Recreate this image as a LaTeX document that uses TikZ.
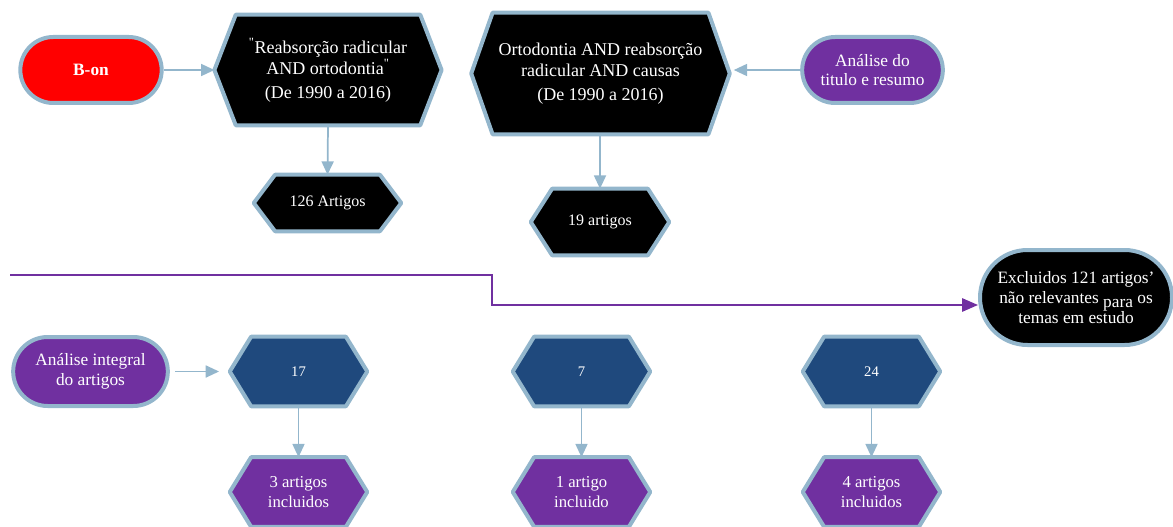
\documentclass[tikz,border=0pt]{standalone}
\usepackage{fontspec}
\setmainfont{Liberation Serif}
\newfontfamily\retofont[Ligatures=TeXOff]{Liberation Serif}
\usetikzlibrary{shapes.misc,arrows.meta,backgrounds}
\definecolor{edgeblue}{HTML}{93B6CC}
\definecolor{darkblue}{HTML}{1F497D}
\definecolor{roxo}{HTML}{7030A0}

\tikzset{
  hexa/.style={inner sep=0pt, align=center, text=white, font=\fontsize{12}{15}\selectfont},
  oval/.style={rounded rectangle, draw=edgeblue, line width=3pt, inner sep=2pt, align=center,
    text=white, font=\fontsize{13}{15}\selectfont},
  seta/.style={draw=edgeblue, line width=1.3pt, -{Triangle[length=10pt,width=9pt]}},
}
% hexagon drawn behind a named node
\newcommand{\hexback}[2]{%
  \begin{scope}[on background layer]
    \draw[draw=edgeblue, line width=3pt, line join=round, fill=#2]
      (#1.west) -- ([xshift=16pt]#1.north west) -- ([xshift=-16pt]#1.north east)
      -- (#1.east) -- ([xshift=-16pt]#1.south east) -- ([xshift=16pt]#1.south west) -- cycle;
  \end{scope}}

\begin{document}
\begin{tikzpicture}[x=0.75pt,y=-0.75pt]
\useasboundingbox (0,0) rectangle (1173,527);

% top row
\node[oval, fill=red, font=\bfseries\fontsize{13}{15}\selectfont, minimum width=110pt, minimum height=49.5pt] (bon) at (91,70) {B-on};
\node[hexa, font=\fontsize{13.5}{16}\selectfont, minimum width=170pt, minimum height=82.5pt] (reab) at (328,70)
  {\textsuperscript{\retofont"}Reabsorção radicular\\AND ortodontia\textsuperscript{\retofont"}\\[2pt](De 1990 a 2016)};
\node[hexa, font=\fontsize{13.5}{16}\selectfont, minimum width=193.5pt, minimum height=90.75pt] (orto) at (600.5,73.5)
  {Ortodontia AND reabsorção\\radicular AND causas\\[2pt](De 1990 a 2016)};
\node[oval, fill=roxo, font=\fontsize{13}{14}\selectfont, minimum width=109.5pt, minimum height=49.5pt] (titulo) at (872.5,70)
  {Análise do\\titulo e resumo};
\node[hexa, minimum width=110.25pt, minimum height=42pt] (art126) at (327.5,203) {126 Artigos};
\node[hexa, minimum width=103.5pt, minimum height=49.5pt] (art19) at (600,222) {19 artigos};

% exclusion
\coordinate (inicio) at (10,275);
\coordinate (dobra) at (492,305);
\node[oval, fill=black, minimum width=148pt, minimum height=71.25pt] (excl) at (1076,297.5)
  {Excluidos 121 artigos’\\não relevantes \raisebox{-3pt}{para} os\\temas em estudo};

% bottom rows
\node[oval, fill=roxo, minimum width=120pt, minimum height=51.75pt] (integ) at (90.5,371.5)
  {Análise integral\\do artigos};
\node[hexa, font=\fontsize{11}{14}\selectfont, minimum width=102.75pt, minimum height=51.75pt] (n17) at (298.5,371.5) {17};
\node[hexa, font=\fontsize{11}{14}\selectfont, minimum width=102.75pt, minimum height=51.75pt] (n7) at (581.5,371.5) {7};
\node[hexa, font=\fontsize{11}{14}\selectfont, minimum width=102.75pt, minimum height=51.75pt] (n24) at (871.5,371.5) {24};
\node[hexa, font=\fontsize{12.5}{15}\selectfont, minimum width=102.75pt, minimum height=51.75pt] (inc3) at (298.5,492) {3 artigos\\incluidos};
\node[hexa, font=\fontsize{12.5}{15}\selectfont, minimum width=102.75pt, minimum height=51.75pt] (inc1) at (581.5,492) {1 artigo\\incluido};
\node[hexa, font=\fontsize{12.5}{15}\selectfont, minimum width=102.75pt, minimum height=51.75pt] (inc4) at (871.5,492) {4 artigos\\incluidos};

\foreach \n/\c in {reab/black, orto/black, art126/black, art19/black,
                   n17/darkblue, n7/darkblue, n24/darkblue,
                   inc3/roxo, inc1/roxo, inc4/roxo}
  \hexback{\n}{\c};

% connectors
\draw[seta] (bon.east) -- (reab.west);
\draw[seta, shorten >=3pt] (titulo.west) -- (titulo.west -| orto.east);
\draw[seta] (reab.south) -- (art126.north);
\draw[seta] (orto.south -| art19.north) -- (art19.north);
\draw[draw=roxo, line width=1.5pt, -{Triangle[length=12pt,width=10pt]}]
  (inicio) -| (dobra) -- (dobra -| excl.west);
\draw[seta, shorten <=4pt, shorten >=8pt] (integ.east) -- (n17.west);
\draw[seta] (n17.south) -- (inc3.north);
\draw[seta] (n7.south) -- (inc1.north);
\draw[seta] (n24.south) -- (inc4.north);
\end{tikzpicture}
\end{document}
